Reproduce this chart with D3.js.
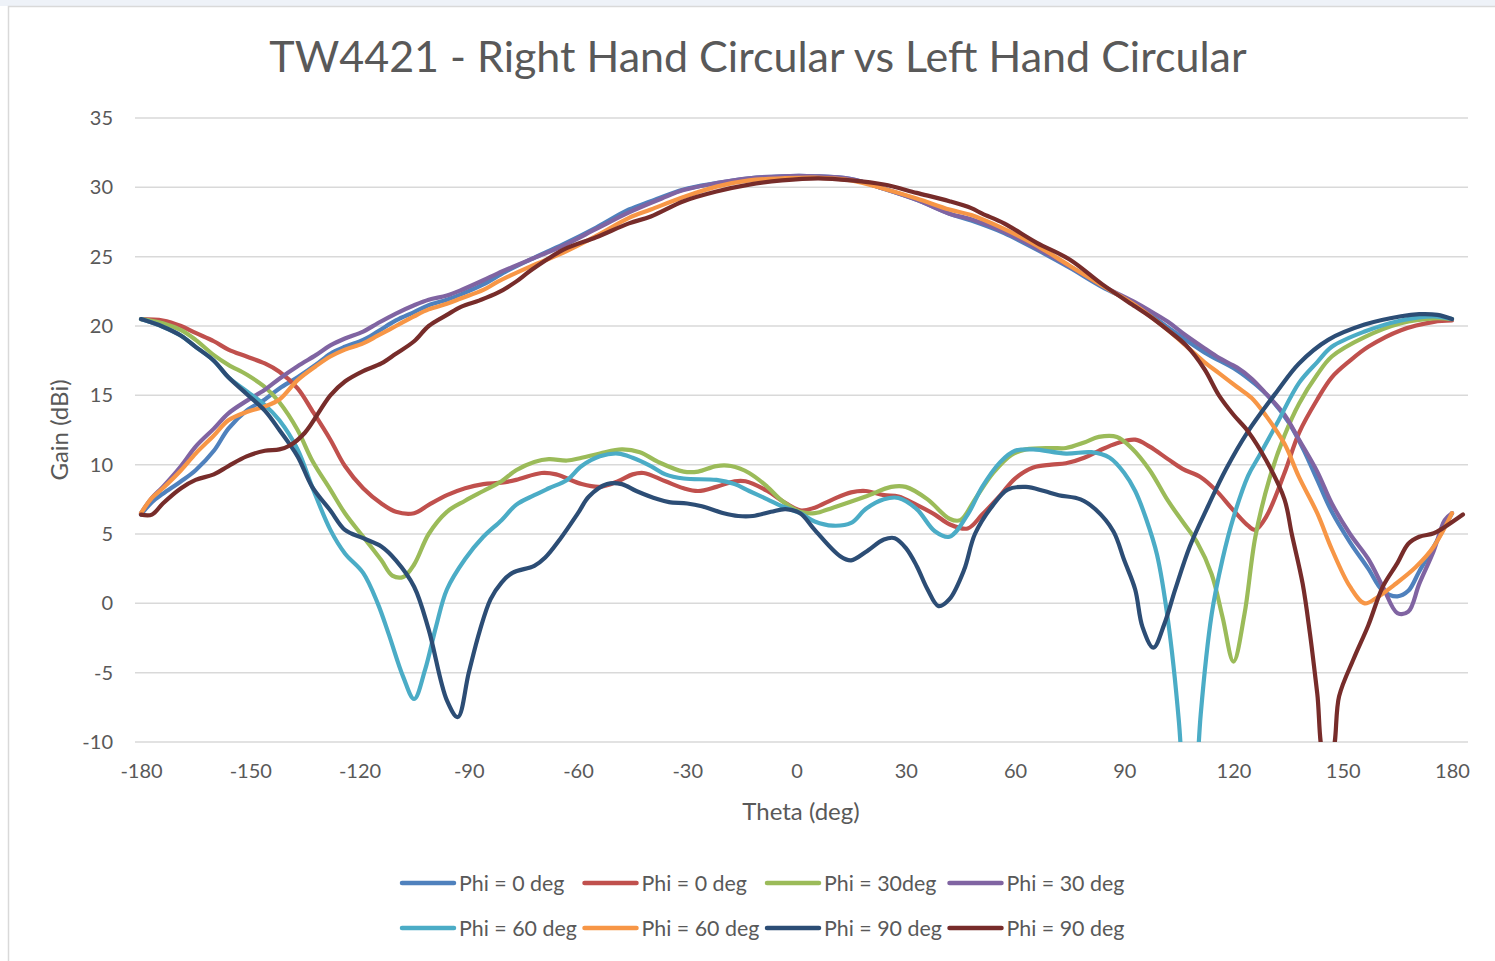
<!DOCTYPE html>
<html>
<head>
<meta charset="utf-8">
<script src="https://cdn.jsdelivr.net/npm/d3@7"></script>
<style>
  body { margin:0; background:#fff; }
  svg { display:block; font-family: Lato, "Open Sans", sans-serif; }
</style>
</head>
<body>
<svg width="1495" height="961"></svg>
<script>
// [theta (deg), gain (dBi)]
const rhPhi0 = [[-180,6.4],[-177,7.3],[-174,7.9],[-169,8.8],[-165,9.6],[-160,11.0],[-156,12.6],[-151,13.9],[-146,14.7],[-142,15.5],[-137,16.3],[-132,17.2],[-128,18.0],[-124,18.5],[-119,19.0],[-115,19.6],[-110,20.4],[-105,21.0],[-101,21.5],[-96,21.9],[-92,22.3],[-86,23.0],[-80,23.9],[-73,24.8],[-64,25.9],[-55,27.1],[-46,28.4],[-40,29.0],[-31,29.85],[-22,30.3],[-13,30.65],[-4,30.8],[5,30.8],[15,30.6],[24,29.9],[33,29.1],[42,28.1],[48,27.6],[57,26.7],[66,25.5],[75,24.2],[84,22.8],[93,21.6],[102,19.9],[112,18.1],[121,16.8],[126,15.8],[130,14.8],[135,13.1],[139,11.2],[143,8.9],[147,6.6],[152,4.4],[157,2.5],[161,0.9],[165,0.5],[168,0.9],[171,2.3],[175,4.1],[180,6.5]];

const lhPhi0 = [[-180,20.5],[-174,20.4],[-169,20.0],[-165,19.5],[-160,18.9],[-156,18.3],[-151,17.8],[-146,17.3],[-142,16.7],[-137,15.5],[-133,13.9],[-128,11.8],[-124,9.9],[-119,8.3],[-114,7.2],[-110,6.6],[-105,6.5],[-101,7.1],[-96,7.8],[-91,8.3],[-86,8.6],[-81,8.7],[-77,8.9],[-70,9.4],[-66,9.3],[-59,8.6],[-54,8.4],[-49,8.8],[-45,9.3],[-42,9.4],[-36,8.8],[-31,8.3],[-27,8.1],[-22,8.4],[-17,8.8],[-14,8.8],[-8,8.1],[-4,7.4],[1,6.7],[5,6.9],[10,7.5],[15,8.0],[19,8.1],[24,7.8],[28,7.7],[33,7.1],[38,6.4],[42,5.7],[47,5.4],[51,6.4],[56,7.8],[60,9.0],[65,9.8],[70,10.0],[74,10.1],[79,10.5],[83,11.0],[88,11.55],[93,11.8],[97,11.3],[102,10.4],[106,9.7],[111,9.1],[115,8.2],[120,6.7],[124,5.6],[126,5.3],[129,6.25],[134,9.4],[138,12.3],[143,14.7],[147,16.3],[152,17.5],[157,18.5],[166,19.7],[175,20.3],[180,20.4]];

const lhPhi30 = [[-180,20.5],[-174,20.2],[-169,19.7],[-165,19.0],[-160,17.9],[-156,17.2],[-151,16.5],[-146,15.6],[-142,14.5],[-137,12.5],[-133,10.3],[-128,8.2],[-124,6.5],[-119,4.8],[-114,3.1],[-111,2.0],[-108,1.9],[-105,2.8],[-101,5.0],[-96,6.6],[-91,7.4],[-86,8.1],[-81,8.8],[-77,9.6],[-72,10.2],[-68,10.4],[-63,10.3],[-59,10.5],[-54,10.8],[-48,11.1],[-43,10.9],[-38,10.2],[-31,9.5],[-27,9.5],[-22,9.9],[-18,9.9],[-13,9.4],[-8,8.4],[-4,7.4],[1,6.6],[5,6.5],[10,6.9],[19,7.7],[26,8.4],[30,8.4],[36,7.5],[42,6.1],[45,6.0],[49,7.5],[54,9.4],[59,10.7],[63,11.1],[70,11.2],[74,11.2],[79,11.6],[83,12.0],[88,12.0],[92,11.2],[97,9.6],[102,7.4],[106,5.9],[110,4.4],[114,2.1],[117,-1.0],[120,-4.2],[123,-0.8],[126,4.8],[130,9.1],[134,12.1],[138,14.4],[143,16.5],[147,17.8],[156,19.2],[166,20.2],[175,20.55],[180,20.5]];

const rhPhi30 = [[-180,6.5],[-177,7.6],[-174,8.4],[-169,9.9],[-165,11.3],[-160,12.6],[-156,13.7],[-151,14.6],[-146,15.4],[-142,16.2],[-137,17.1],[-132,17.9],[-128,18.6],[-124,19.1],[-119,19.6],[-115,20.2],[-110,20.9],[-105,21.5],[-101,21.9],[-96,22.2],[-92,22.6],[-86,23.3],[-82,23.8],[-73,24.8],[-64,25.8],[-55,27.0],[-46,28.2],[-37,29.2],[-31,29.8],[-22,30.3],[-13,30.65],[-4,30.8],[5,30.8],[15,30.6],[24,29.9],[33,29.1],[42,28.1],[48,27.7],[57,26.8],[66,25.6],[75,24.3],[84,22.9],[93,21.7],[97,21.1],[102,20.3],[106,19.5],[112,18.4],[116,17.7],[121,17.0],[125,16.2],[129,15.1],[134,13.6],[138,11.8],[143,9.5],[147,7.2],[152,5.0],[157,3.2],[161,1.2],[165,-0.7],[168,-0.6],[171,1.4],[175,3.8],[178,6.0],[180,6.5]];

const lhPhi60 = [[-180,20.5],[-174,19.95],[-169,19.3],[-165,18.5],[-160,17.5],[-156,16.3],[-151,15.3],[-146,14.3],[-142,13.2],[-137,11.1],[-133,8.4],[-128,5.3],[-124,3.6],[-119,2.2],[-115,0.0],[-112,-2.2],[-108,-5.3],[-105,-6.9],[-102,-4.8],[-99,-1.7],[-96,1.0],[-91,3.2],[-86,4.8],[-81,6.0],[-77,7.1],[-72,7.8],[-68,8.3],[-63,8.9],[-59,9.9],[-54,10.6],[-49,10.8],[-45,10.5],[-40,9.9],[-36,9.3],[-31,9.0],[-22,8.9],[-17,8.6],[-13,8.1],[-8,7.5],[-4,7.0],[1,6.5],[5,5.9],[10,5.6],[15,5.8],[19,6.8],[24,7.5],[28,7.6],[33,6.8],[38,5.2],[42,4.8],[47,6.4],[51,8.4],[56,10.2],[60,11.0],[65,11.1],[74,10.8],[81,10.9],[86,10.5],[90,9.4],[93,8.1],[96,6.1],[99,3.5],[102,-1.2],[105,-8.5],[108,-20],[111,-8.0],[114,-0.8],[117,3.2],[120,6.2],[124,9.2],[127,10.6],[132,13.0],[138,15.9],[143,17.4],[147,18.5],[156,19.6],[166,20.4],[175,20.7],[180,20.5]];

const rhPhi60 = [[-180,6.5],[-177,7.6],[-174,8.3],[-169,9.6],[-165,10.8],[-160,12.1],[-156,13.2],[-151,13.8],[-146,14.2],[-142,14.7],[-137,16.1],[-132,17.1],[-128,17.8],[-124,18.3],[-119,18.75],[-115,19.3],[-110,20.0],[-105,20.7],[-101,21.2],[-96,21.6],[-92,22.0],[-86,22.6],[-82,23.2],[-73,24.3],[-64,25.3],[-55,26.5],[-46,27.8],[-40,28.4],[-31,29.3],[-22,30.05],[-13,30.5],[-4,30.65],[5,30.7],[15,30.5],[24,29.9],[33,29.2],[42,28.4],[48,28.0],[57,27.0],[66,25.8],[75,24.35],[84,22.9],[93,21.5],[102,19.7],[112,17.4],[116,16.6],[121,15.6],[125,14.8],[129,13.5],[134,11.5],[138,9.1],[143,6.5],[147,3.9],[152,1.2],[156,0.0],[159,0.35],[164,1.3],[170,2.6],[175,4.1],[180,6.5]];

const lhPhi90 = [[-180,20.5],[-174,19.95],[-169,19.3],[-165,18.5],[-160,17.5],[-156,16.3],[-151,15.1],[-146,13.9],[-142,12.5],[-137,10.6],[-133,8.4],[-128,6.7],[-124,5.3],[-119,4.7],[-114,4.1],[-110,3.1],[-105,1.2],[-101,-1.9],[-96,-7.0],[-93,-8.2],[-90,-5.0],[-87,-2.0],[-84,0.3],[-81,1.5],[-78,2.2],[-72,2.7],[-69,3.3],[-65,4.6],[-60,6.5],[-57,7.7],[-52,8.6],[-48,8.6],[-44,8.1],[-38,7.5],[-35,7.3],[-30,7.2],[-26,7.0],[-20,6.5],[-16,6.3],[-12,6.3],[-7,6.6],[-3,6.8],[1,6.5],[5,5.3],[12,3.4],[15,3.1],[19,3.7],[24,4.6],[27,4.7],[30,4.0],[33,2.7],[36,1.0],[39,-0.2],[42,0.3],[46,2.4],[49,5.0],[54,7.1],[58,8.2],[63,8.4],[68,8.1],[72,7.8],[78,7.5],[82,6.8],[87,5.2],[90,3.1],[93,1.0],[95,-1.7],[98,-3.2],[101,-1.5],[104,1.0],[108,4.1],[113,7.0],[118,9.7],[124,12.4],[132,15.3],[138,17.3],[146,19.0],[156,20.1],[166,20.7],[171,20.85],[176,20.8],[180,20.5]];

const rhPhi90 = [[-180,6.4],[-177,6.4],[-174,7.2],[-169,8.3],[-165,8.9],[-160,9.3],[-156,9.9],[-151,10.6],[-146,11.0],[-142,11.1],[-139,11.4],[-135,12.3],[-128,15.0],[-124,16.0],[-119,16.75],[-114,17.3],[-110,18.0],[-105,18.9],[-101,20.0],[-96,20.8],[-92,21.4],[-87,21.85],[-82,22.4],[-77,23.2],[-73,24.0],[-64,25.5],[-55,26.4],[-46,27.4],[-40,27.9],[-31,29.0],[-22,29.7],[-13,30.2],[-4,30.5],[6,30.65],[15,30.5],[24,30.2],[33,29.6],[42,29.0],[48,28.5],[51,28.1],[57,27.4],[66,26.0],[75,24.8],[84,23.0],[93,21.4],[97,20.7],[102,19.7],[107,18.6],[112,16.9],[116,15.0],[120,13.6],[124,12.4],[129,10.3],[134,7.5],[136,5.0],[139,1.4],[141,-2.2],[143,-6.5],[145,-11],[147,-10.8],[149,-6.7],[153,-4.0],[157,-1.6],[161,1.2],[165,2.9],[168,4.3],[171,4.8],[175,5.05],[178,5.5],[183,6.4]];

const seriesData = [rhPhi0, lhPhi0, lhPhi30, rhPhi30, lhPhi60, rhPhi60, lhPhi90, rhPhi90];
const seriesNames = ["Phi = 0 deg","Phi = 0 deg","Phi = 30deg","Phi = 30 deg","Phi = 60 deg","Phi = 60 deg","Phi = 90 deg","Phi = 90 deg"];
const seriesColors = ["#4F81BD","#C0504D","#9BBB59","#8064A2","#4BACC6","#F79646","#2C4D75","#772C2A"];
const xTicks = [-180,-150,-120,-90,-60,-30,0,30,60,90,120,150,180];
const yTicks = [-10,-5,0,5,10,15,20,25,30,35];

const svg = d3.select("svg");
const textColor = "#595959";

// screenshot strip + chart border
svg.append("rect").attr("x",0).attr("y",0).attr("width",1495).attr("height",6).attr("fill","#eef2f8");
svg.append("rect").attr("x",8.5).attr("y",6.5).attr("width",1495).attr("height",970)
  .attr("fill","#fff").attr("stroke","#d9d9d9").attr("stroke-width",1.5);

const xScale = d3.scaleLinear().domain([-180,180]).range([141,1452]);
const yScale = d3.scaleLinear().domain([-10,35]).range([742,118]);

// gridlines
svg.append("g")
  .selectAll("line")
  .data(yTicks)
  .enter()
  .append("line")
  .attr("x1",135).attr("x2",1468)
  .attr("y1",d=>yScale(d)).attr("y2",d=>yScale(d))
  .attr("stroke","#d9d9d9").attr("stroke-width",1.5);

// plain hyphen minus like the original, not d3's unicode minus
const plain = d=>String(d);

const yAxis = svg.append("g")
  .attr("transform","translate(135,0)")
  .call(d3.axisLeft(yScale).tickValues(yTicks).tickFormat(plain).tickSize(0).tickPadding(22));
yAxis.select(".domain").remove();
yAxis.selectAll("text").attr("font-size",20).attr("fill",textColor).attr("font-family","Lato, sans-serif");

const xAxis = svg.append("g")
  .attr("transform","translate(0,742)")
  .call(d3.axisBottom(xScale).tickValues(xTicks).tickFormat(plain).tickSize(0).tickPadding(22));
xAxis.select(".domain").remove();
xAxis.selectAll("text").attr("font-size",20).attr("fill",textColor).attr("font-family","Lato, sans-serif");

svg.append("defs").append("clipPath").attr("id","plotClip")
  .append("rect").attr("x",0).attr("y",90).attr("width",1495).attr("height",yScale(-10)-90);

const line = d3.line()
  .x(d=>xScale(d[0]))
  .y(d=>yScale(d[1]))
  .curve(d3.curveCatmullRom.alpha(0.5));

svg.append("g").attr("clip-path","url(#plotClip)")
  .selectAll("path")
  .data(seriesData)
  .enter()
  .append("path")
  .attr("d",d=>line(d))
  .attr("fill","none")
  .attr("stroke",(d,i)=>seriesColors[i])
  .attr("stroke-width",4.2)
  .attr("stroke-linejoin","round")
  .attr("stroke-linecap","round");

// title and axis titles
svg.append("text")
  .attr("x",758).attr("y",72)
  .attr("text-anchor","middle")
  .attr("font-size",43)
  .attr("fill",textColor)
  .text("TW4421 - Right Hand Circular vs Left Hand Circular");

svg.append("text")
  .attr("transform","translate(68,430) rotate(-90)")
  .attr("text-anchor","middle")
  .attr("font-size",24)
  .attr("fill",textColor)
  .text("Gain (dBi)");

svg.append("text")
  .attr("x",801).attr("y",820)
  .attr("text-anchor","middle")
  .attr("font-size",24)
  .attr("fill",textColor)
  .text("Theta (deg)");

// legend, 4 per row
const legend = svg.append("g")
  .selectAll("g")
  .data(seriesNames)
  .enter()
  .append("g")
  .attr("transform",(d,i)=>"translate(" + (402 + (i%4)*182.5) + "," + (883 + Math.floor(i/4)*45) + ")");

legend.append("line")
  .attr("x1",0).attr("x2",52)
  .attr("y1",0).attr("y2",0)
  .attr("stroke",(d,i)=>seriesColors[i])
  .attr("stroke-width",4.5)
  .attr("stroke-linecap","round");

legend.append("text")
  .attr("x",57).attr("y",7.5)
  .attr("font-size",21.4)
  .attr("fill",textColor)
  .text(d=>d);
</script>
</body>
</html>
